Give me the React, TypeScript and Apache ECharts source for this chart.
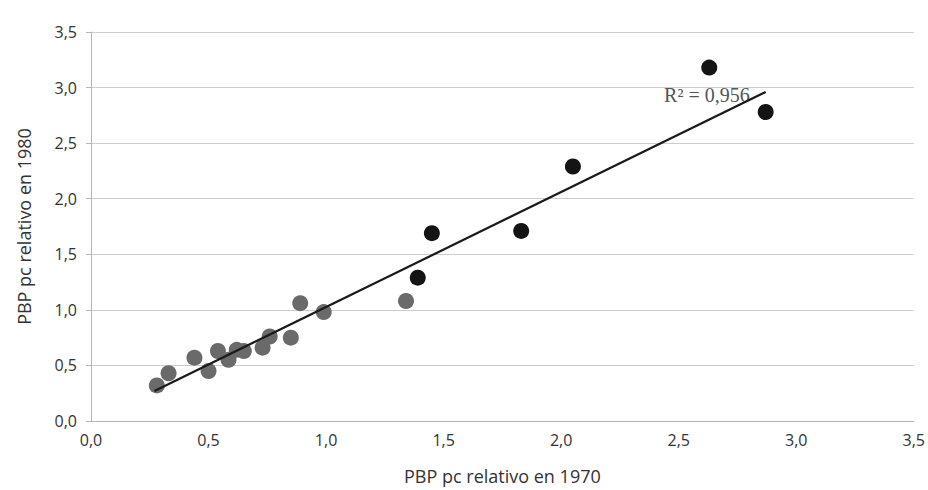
import React, { useEffect, useRef } from "react";
import * as echarts from "echarts";

// Black points (higher-income group)
const blackX = [2.63, 2.87, 2.05, 1.45, 1.83, 1.39];
const blackY = [3.18, 2.78, 2.29, 1.69, 1.71, 1.29];

// Gray points
const grayX = [0.28, 0.33, 0.44, 0.5, 0.54, 0.585, 0.62, 0.65, 0.73, 0.76, 0.85, 0.89, 0.99, 1.34];
const grayY = [0.32, 0.43, 0.57, 0.45, 0.63, 0.55, 0.64, 0.63, 0.66, 0.76, 0.75, 1.06, 0.98, 1.08];

// Trend line end points
const trendX = [0.27, 2.87];
const trendY = [0.27, 2.96];
const r2Label = "R² = 0,956";

const tickLabels = ["0,0", "0,5", "1,0", "1,5", "2,0", "2,5", "3,0", "3,5"];
const xName = "PBP pc relativo en 1970";
const yName = "PBP pc relativo en 1980";

export default function App() {
  const ref = useRef<HTMLDivElement>(null);
  useEffect(() => {
    if (!ref.current) return;
    const chart = echarts.init(ref.current, null, { renderer: "svg" });
    const fmt = (v: number) => tickLabels[Math.round(v / 0.5)] ?? "";
    const labelStyle = { color: "#333333", fontSize: 16, fontFamily: "Open Sans" };
    const nameStyle = { color: "#333333", fontSize: 18, fontFamily: "Open Sans" };
    chart.setOption({
      animation: false,
      backgroundColor: "#ffffff",
      grid: { left: 91, right: 14, top: 32, bottom: 68 },
      xAxis: {
        type: "value",
        min: 0,
        max: 3.5,
        interval: 0.5,
        name: xName,
        nameLocation: "middle",
        nameGap: 46,
        nameTextStyle: nameStyle,
        axisLine: { show: true, lineStyle: { color: "#b5b5b5", width: 1 } },
        axisTick: { show: false },
        splitLine: { show: false },
        axisLabel: { ...labelStyle, margin: 11, formatter: fmt },
      },
      yAxis: {
        type: "value",
        min: 0,
        max: 3.5,
        interval: 0.5,
        name: yName,
        nameLocation: "middle",
        nameGap: 58,
        nameTextStyle: nameStyle,
        axisLine: { show: true, lineStyle: { color: "#b5b5b5", width: 1 } },
        axisTick: { show: true, length: 5, lineStyle: { color: "#b5b5b5" } },
        splitLine: { show: true, lineStyle: { color: "#cccccc", width: 1 } },
        axisLabel: { ...labelStyle, margin: 14, formatter: fmt },
      },
      series: [
        {
          type: "scatter",
          symbol: "circle",
          symbolSize: 16,
          itemStyle: { color: "#6a6a6a", opacity: 1 },
          data: grayX.map((x, i) => [x, grayY[i]]),
          z: 2,
        },
        {
          type: "scatter",
          symbol: "circle",
          symbolSize: 16,
          itemStyle: { color: "#141414", opacity: 1 },
          data: blackX.map((x, i) => [x, blackY[i]]),
          z: 2,
        },
        {
          type: "line",
          showSymbol: false,
          symbol: "none",
          lineStyle: { color: "#1a1a1a", width: 2.2 },
          data: trendX.map((x, i) => [x, trendY[i]]),
          z: 3,
        },
      ],
    });
    const p = chart.convertToPixel({ gridIndex: 0 }, [trendX[1], trendY[1]]) as number[];
    chart.setOption({
      graphic: [
        {
          type: "text",
          x: p[0] - 16,
          y: p[1] + 3,
          z: 1,
          style: {
            text: r2Label,
            align: "right",
            verticalAlign: "middle",
            fill: "#555555",
            fontSize: 20,
            fontFamily: "Liberation Serif",
          },
        },
      ],
    });
    return () => chart.dispose();
  }, []);
  return (
    <div
      ref={ref}
      style={{ position: "absolute", left: 0, top: 0, width: 928, height: 490 }}
    />
  );
}
